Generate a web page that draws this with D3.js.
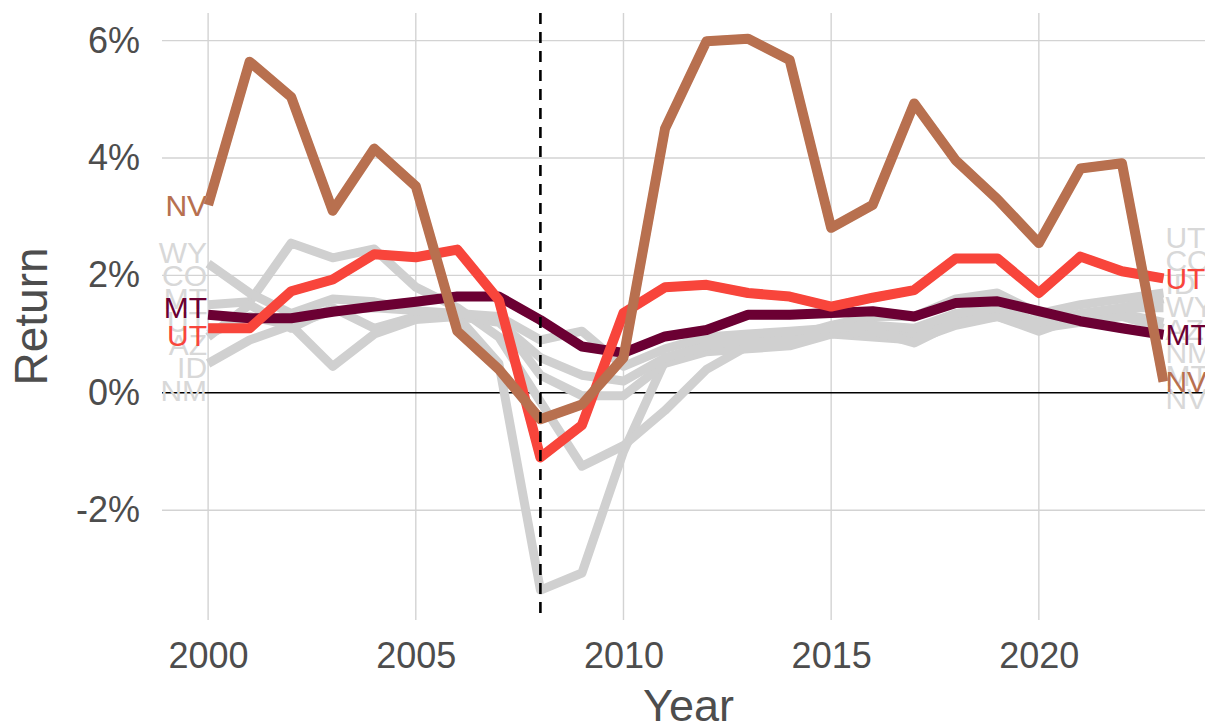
<!DOCTYPE html>
<html>
<head>
<meta charset="utf-8">
<script src="https://cdn.jsdelivr.net/npm/d3@7"></script>
<style>
  body { margin: 0; background: #fff; }
  svg { display: block; font-family: "Liberation Sans", Arial, sans-serif; }
</style>
</head>
<body>
<div id="chart"></div>
<script>
// data (returns in %)
const years = d3.range(2000, 2024);

const NV = [3.2, 5.64, 5.04, 3.1, 4.16, 3.52, 1.05, 0.4, -0.45, -0.2, 0.6, 4.5, 5.99, 6.03, 5.67, 2.81, 3.2, 4.93, 3.96, 3.3, 2.55, 3.82, 3.91, 0.19];
const UT = [1.1, 1.1, 1.73, 1.93, 2.36, 2.31, 2.44, 1.58, -1.1, -0.55, 1.36, 1.8, 1.84, 1.7, 1.64, 1.47, 1.62, 1.75, 2.29, 2.29, 1.7, 2.32, 2.07, 1.95];
const MT = [1.33, 1.27, 1.27, 1.38, 1.47, 1.55, 1.64, 1.64, 1.24, 0.79, 0.68, 0.96, 1.07, 1.33, 1.33, 1.36, 1.39, 1.3, 1.53, 1.56, 1.39, 1.22, 1.1, 0.99];
const WY = [2.2, 1.7, 1.35, 1.6, 1.55, 1.4, 1.35, 1.3, 0.9, 1.05, 0.45, 0.75, 0.95, 1.0, 1.05, 1.1, 1.15, 1.1, 1.35, 1.45, 1.2, 1.35, 1.45, 1.45];
const CO = [1.5, 1.55, 2.55, 2.3, 2.45, 1.8, 1.45, 0.95, -0.15, -1.25, -0.9, -0.3, 0.4, 0.8, 0.95, 1.15, 1.3, 1.3, 1.6, 1.7, 1.35, 1.5, 1.6, 1.7];
const AZ = [1.0, 1.3, 1.15, 1.4, 1.45, 1.4, 1.3, 0.5, -3.36, -3.07, -1.0, 0.55, 0.85, 0.95, 0.95, 1.05, 1.05, 1.0, 1.25, 1.35, 1.1, 1.25, 1.35, 1.2];
const ID = [0.95, 1.5, 1.1, 1.45, 1.1, 1.3, 1.3, 1.25, 0.3, -0.05, -0.05, 0.5, 0.7, 0.75, 0.8, 1.0, 0.95, 0.9, 1.15, 1.3, 1.05, 1.3, 1.45, 1.6];
const NM = [0.5, 0.9, 1.15, 0.45, 1.0, 1.25, 1.3, 1.2, 0.6, 0.3, 0.2, 0.6, 0.8, 0.9, 0.9, 1.0, 1.05, 0.85, 1.2, 1.3, 1.1, 1.2, 1.3, 1.1];

const allStates = [
  { name: "AZ", values: AZ }, { name: "CO", values: CO }, { name: "ID", values: ID },
  { name: "MT", values: MT }, { name: "NV", values: NV }, { name: "NM", values: NM },
  { name: "UT", values: UT }, { name: "WY", values: WY }
];
const highlight = [
  { name: "MT", values: MT, color: "#6b0033" },
  { name: "UT", values: UT, color: "#f8453b" },
  { name: "NV", values: NV, color: "#b8704f" }
];

const yTicks = [-2, 0, 2, 4, 6];
const xTicks = [2000, 2005, 2010, 2015, 2020];
const crisisYear = 2008;

const width = 1205, height = 725;
const margin = { top: 13, right: 0, bottom: 105, left: 162 };

const svg = d3.select("#chart").append("svg")
  .attr("width", width)
  .attr("height", height);

const x = d3.scaleLinear()
  .domain([1998.89, 2024.0])
  .range([margin.left, width - margin.right]);

const y = d3.scaleLinear()
  .domain([-3.87, 6.47])
  .range([height - margin.bottom, margin.top]);

// grid
svg.append("g")
  .selectAll("line")
  .data(xTicks)
  .join("line")
  .attr("x1", d => x(d)).attr("x2", d => x(d))
  .attr("y1", margin.top).attr("y2", height - margin.bottom)
  .attr("stroke", "#d3d3d3").attr("stroke-width", 1.4);

svg.append("g")
  .selectAll("line")
  .data(yTicks.filter(d => d !== 0))
  .join("line")
  .attr("x1", margin.left).attr("x2", width)
  .attr("y1", d => y(d)).attr("y2", d => y(d))
  .attr("stroke", "#d3d3d3").attr("stroke-width", 1.4);

svg.append("line")
  .attr("x1", margin.left).attr("x2", width)
  .attr("y1", y(0)).attr("y2", y(0))
  .attr("stroke", "#000").attr("stroke-width", 1.6);

// axes text
const yAxis = d3.axisLeft(y).tickValues(yTicks).tickFormat(d => d + "%").tickSize(0).tickPadding(22);
svg.append("g")
  .attr("transform", `translate(${margin.left},0)`)
  .call(yAxis)
  .call(g => g.select(".domain").remove())
  .selectAll("text")
  .attr("fill", "#4d4d4d")
  .style("font-size", "36px");

const xAxis = d3.axisBottom(x).tickValues(xTicks).tickFormat(d3.format("d")).tickSize(0).tickPadding(22);
svg.append("g")
  .attr("transform", `translate(0,${height - margin.bottom})`)
  .call(xAxis)
  .call(g => g.select(".domain").remove())
  .selectAll("text")
  .attr("fill", "#4d4d4d")
  .style("font-size", "36px");

svg.append("text")
  .attr("x", (margin.left + width) / 2 + 5)
  .attr("y", 721)
  .attr("text-anchor", "middle")
  .attr("fill", "#4d4d4d")
  .style("font-size", "45px")
  .text("Year");

svg.append("text")
  .attr("transform", `translate(47,${(margin.top + height - margin.bottom) / 2}) rotate(-90)`)
  .attr("text-anchor", "middle")
  .attr("fill", "#4d4d4d")
  .style("font-size", "46px")
  .text("Return");

// lines
const line = d3.line()
  .x((d, i) => x(years[i]))
  .y(d => y(d));

svg.append("g")
  .selectAll("path")
  .data(allStates)
  .join("path")
  .attr("d", d => line(d.values))
  .attr("fill", "none")
  .attr("stroke", "#d0d0d0")
  .attr("stroke-width", 9)
  .attr("stroke-linejoin", "round");

svg.append("g")
  .selectAll("path")
  .data(highlight)
  .join("path")
  .attr("d", d => line(d.values))
  .attr("fill", "none")
  .attr("stroke", d => d.color)
  .attr("stroke-width", 10)
  .attr("stroke-linejoin", "round");

svg.append("line")
  .attr("x1", x(crisisYear)).attr("x2", x(crisisYear))
  .attr("y1", margin.top).attr("y2", height - margin.bottom)
  .attr("stroke", "#000").attr("stroke-width", 2.6)
  .attr("stroke-dasharray", "11,8");

// labels, pushed apart so they don't collide
function repel(items, gap) {
  const arr = items.map(d => ({ ...d, pos: y(d.v) })).sort((a, b) => a.pos - b.pos);
  for (let k = 0; k < 300; k++) {
    for (let i = 1; i < arr.length; i++) {
      const over = gap - (arr[i].pos - arr[i - 1].pos);
      if (over > 0) {
        arr[i - 1].pos -= over / 2;
        arr[i].pos += over / 2;
      }
    }
  }
  return arr;
}

function drawLabels(series, idx, anchor, xPos, gap, colorFn) {
  const items = repel(series.map(s => ({ name: s.name, v: s.values[idx], color: colorFn(s) })), gap);
  svg.append("g")
    .selectAll("text")
    .data(items)
    .join("text")
    .attr("x", xPos)
    .attr("y", d => d.pos)
    .attr("dy", "0.36em")
    .attr("text-anchor", anchor)
    .attr("fill", d => d.color)
    .style("font-size", "30px")
    .text(d => d.name);
}

const last = years.length - 1;
drawLabels(allStates, 0, "end", x(2000) - 1, 23, () => "#d8d8d8");
drawLabels(allStates, last, "start", x(2023) + 2, 23, () => "#d8d8d8");
drawLabels(highlight, 0, "end", x(2000) - 1, 28, d => d.color);
drawLabels(highlight, last, "start", x(2023) + 2, 28, d => d.color);
</script>
</body>
</html>
